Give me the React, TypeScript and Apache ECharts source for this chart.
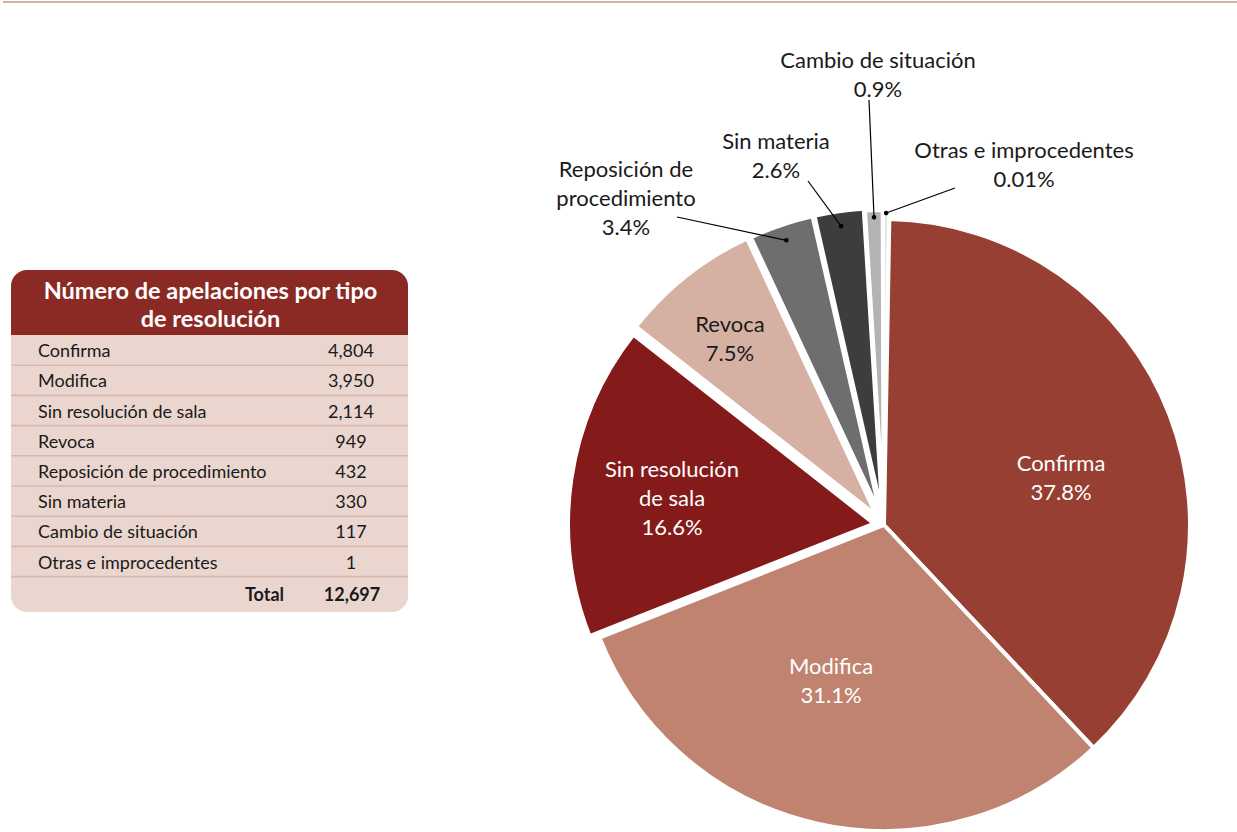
import React, { useEffect, useRef } from "react";
import * as echarts from "echarts";

// ---------- data ----------
const categories = [
  "Confirma",
  "Modifica",
  "Sin resolución de sala",
  "Revoca",
  "Reposición de procedimiento",
  "Sin materia",
  "Cambio de situación",
  "Otras e improcedentes",
];
const counts = [4804, 3950, 2114, 949, 432, 330, 117, 1];
const pieLabelNames = [
  "Confirma",
  "Modifica",
  "Sin resolución\nde sala",
  "Revoca",
  "Reposición de\nprocedimiento",
  "Sin materia",
  "Cambio de situación",
  "Otras e improcedentes",
];
const tableTitle = "Número de apelaciones por tipo\nde resolución";
const totalText = "Total";

// ---------- styles / layout ----------
const sliceColors = ["#963F32", "#BF8370", "#841B1A", "#D6B0A3", "#6E6E6E", "#3D3D3D", "#B3B3B3", "#E6E6E6"];
const labelColors = ["#FFFFFF", "#FFFFFF", "#FFFFFF", "#1A1A1A", "#1A1A1A", "#1A1A1A", "#1A1A1A", "#1A1A1A"];
const explodeOffsets = [0, 0, 10, 12, 11, 11, 9, 9];
const LABEL_POS: [number, number][] = [
  [1061, 477],
  [831, 680],
  [672, 497],
  [730, 338],
  [626, 197],
  [776, 155],
  [878, 74],
  [1024, 164],
];
// label-side end of the leader lines, and how far inside the slice the other end sits
const LINE_END: ([number, number] | null)[] = [null, null, null, null, [677, 217], [808, 181], [869, 100], [955, 188]];
const LINE_INSET = [0, 0, 0, 0, 16, 15, 7, 3];
const FONT = "Lato, 'Open Sans', 'Noto Sans', sans-serif";
const CENTER: [number, number] = [884, 525];
const RADIUS = 306;
const START_ANGLE = 89;
const MIN_ANGLE = 1.2;
const BORDER = 4;

const total = counts.reduce((a, b) => a + b, 0);
const fmtNum = (v: number) => v.toLocaleString("en-US");
const fmtPct = (v: number) => {
  const p = (v / total) * 100;
  return (p < 0.1 ? p.toFixed(2) : p.toFixed(1)) + "%";
};

// slice angles as the pie lays them out (minAngle applied), mid-angle clockwise from 12 o'clock
const midAngles = (() => {
  const raw = counts.map((v) => (360 * v) / total);
  const small = raw.filter((a) => a < MIN_ANGLE).length;
  const bigSum = raw.filter((a) => a >= MIN_ANGLE).reduce((a, b) => a + b, 0);
  const scale = (360 - small * MIN_ANGLE) / bigSum;
  const ang = raw.map((a) => (a < MIN_ANGLE ? MIN_ANGLE : a * scale));
  let cum = 90 - START_ANGLE;
  return ang.map((a) => {
    const m = cum + a / 2;
    cum += a;
    return m;
  });
})();
const dirOf = (i: number): [number, number] => {
  const a = (midAngles[i] * Math.PI) / 180;
  return [Math.sin(a), -Math.cos(a)];
};
const offsetOf = (i: number): [number, number] => {
  const d = dirOf(i);
  return [d[0] * explodeOffsets[i], d[1] * explodeOffsets[i]];
};

function buildTable() {
  const x0 = 11;
  const w = 397;
  const top = 270;
  const headH = 65;
  const bottom = 612;
  const rowH = 30.2;
  const els: any[] = [];
  const txt = (text: string, x: number, y: number, font: string, align: string, fill = "#1A1A1A", extra: any = {}) => ({
    type: "text",
    x,
    y,
    style: {
      text,
      fill,
      font,
      align,
      verticalAlign: "middle",
      textAlign: align,
      textVerticalAlign: "middle",
      ...extra,
    },
  });
  els.push({
    type: "rect",
    shape: { x: x0, y: top + headH, width: w, height: bottom - top - headH, r: [0, 0, 16, 16] },
    style: { fill: "#EAD6CF" },
  });
  els.push({
    type: "rect",
    shape: { x: x0, y: top, width: w, height: headH, r: [16, 16, 0, 0] },
    style: { fill: "#8B2A24" },
  });
  els.push(txt(tableTitle, x0 + w / 2 + 1, top + headH / 2 + 1, `bold 23.5px ${FONT}`, "center", "#FFFFFF", { lineHeight: 28 }));
  categories.forEach((c, i) => {
    const cy = top + headH + rowH / 2 + rowH * i;
    els.push(txt(c, 38, cy, `18px ${FONT}`, "left"));
    els.push(txt(fmtNum(counts[i]), 351, cy, `18px ${FONT}`, "center"));
    els.push({
      type: "line",
      shape: { x1: x0, y1: top + headH + rowH * (i + 1), x2: x0 + w, y2: top + headH + rowH * (i + 1) },
      style: { stroke: "#D9B7AD", lineWidth: 1.6 },
    });
  });
  const lastY = top + headH + rowH * categories.length;
  const totY = lastY + (bottom - lastY) / 2;
  els.push(txt(totalText, 284, totY, `bold 18px ${FONT}`, "right"));
  els.push(txt(fmtNum(total), 352, totY, `bold 18px ${FONT}`, "center"));
  return els;
}

function buildLeaders() {
  const els: any[] = [];
  categories.forEach((_, i) => {
    const end = LINE_END[i];
    if (!end) return;
    const d = dirOf(i);
    const off = offsetOf(i);
    const r = RADIUS - LINE_INSET[i];
    const p = [CENTER[0] + off[0] + d[0] * r, CENTER[1] + off[1] + d[1] * r];
    els.push({
      type: "line",
      z: 10,
      shape: { x1: end[0], y1: end[1], x2: p[0], y2: p[1] },
      style: { stroke: "#000000", lineWidth: 1.2 },
    });
    els.push({
      type: "circle",
      z: 10,
      shape: { cx: p[0], cy: p[1], r: 2.3 },
      style: { fill: "#000000" },
    });
  });
  return els;
}

export default function App() {
  const ref = useRef<HTMLDivElement>(null);
  useEffect(() => {
    if (!ref.current) return;
    const chart = echarts.init(ref.current, undefined, { renderer: "svg" });

    const hidden = { color: "rgba(0,0,0,0)", borderWidth: 0 };

    // main pie: non-exploded slices drawn, all labels placed
    const mainSeries: any = {
      type: "pie",
      center: CENTER,
      radius: RADIUS,
      startAngle: START_ANGLE,
      clockwise: true,
      minAngle: MIN_ANGLE,
      avoidLabelOverlap: false,
      silent: true,
      emphasis: { disabled: true, scale: false },
      itemStyle: { borderColor: "#FFFFFF", borderWidth: BORDER },
      label: {
        show: true,
        fontFamily: FONT,
        fontSize: 22,
        lineHeight: 29,
        align: "center",
        formatter: (p: any) => pieLabelNames[p.dataIndex] + "\n" + fmtPct(counts[p.dataIndex]),
      },
      labelLine: { show: false },
      labelLayout: (params: any) => {
        const pos = LABEL_POS[params.dataIndex];
        return { x: pos[0], y: pos[1], align: "center", verticalAlign: "middle" };
      },
      data: categories.map((c, i) => ({
        name: c,
        value: counts[i],
        itemStyle: explodeOffsets[i] ? hidden : { color: sliceColors[i] },
        label: { color: labelColors[i], position: LINE_END[i] ? "outside" : "inside" },
      })),
    };

    // one pie per exploded slice, shifted along that slice's mid-angle
    const explodedSeries: any[] = categories
      .map((_, k) => k)
      .filter((k) => explodeOffsets[k] > 0)
      .map((k) => {
        const off = offsetOf(k);
        return {
          type: "pie",
          center: [CENTER[0] + off[0], CENTER[1] + off[1]],
          radius: RADIUS,
          startAngle: START_ANGLE,
          clockwise: true,
          minAngle: MIN_ANGLE,
          silent: true,
          emphasis: { disabled: true, scale: false },
          label: { show: false },
          labelLine: { show: false },
          data: categories.map((c, i) => ({
            name: c,
            value: counts[i],
            itemStyle: i === k ? { color: sliceColors[i], borderColor: "#FFFFFF", borderWidth: BORDER } : hidden,
          })),
        };
      });

    const option: any = {
      animation: false,
      backgroundColor: "#FFFFFF",
      graphic: [
        {
          type: "line",
          shape: { x1: 3, y1: 2, x2: 1237, y2: 2 },
          style: { stroke: "#D6B1A5", lineWidth: 2 },
        },
        ...buildTable(),
        ...buildLeaders(),
      ],
      series: [...explodedSeries, mainSeries],
    };
    chart.setOption(option);
    return () => chart.dispose();
  }, []);
  return (
    <div
      ref={ref}
      style={{ position: "absolute", left: 0, top: 0, width: 1237, height: 832, background: "#FFFFFF" }}
    />
  );
}
